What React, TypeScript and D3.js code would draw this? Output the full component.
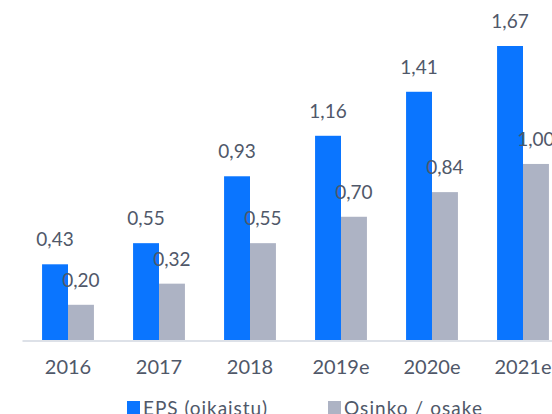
import React from 'react'
import * as d3 from 'd3'

const years = ['2016', '2017', '2018', '2019e', '2020e', '2021e']
const eps = [0.43, 0.55, 0.93, 1.16, 1.41, 1.67]
const dividend = [0.2, 0.32, 0.55, 0.7, 0.84, 1.0]
const seriesNames = ['EPS (oikaistu)', 'Osinko / osake']
const colors = ['#0a75ff', '#adb3c4']

const W = 552
const H = 414
const baseY = 340
const font = 'Lato, "Open Sans", sans-serif'
const textColor = '#505869'

const fmt = (v: number) => v.toFixed(2).replace('.', ',')

export default function App() {
  const x0 = d3.scaleBand<string>()
    .domain(years)
    .range([22.5, 568.5])
    .paddingInner(0.43)
    .paddingOuter(0.215)

  const x1 = d3.scaleBand<number>()
    .domain([0, 1])
    .range([0, x0.bandwidth()])

  const y = d3.scaleLinear()
    .domain([0, 1.67])
    .range([baseY, 46])

  const series = [eps, dividend]
  // legend placement
  const legendX = [127, 328]
  const legendW = [124, 138]

  return (
    <svg width={W} height={H} style={{ position: 'absolute', left: 0, top: 0 }} fontFamily={font}>
      <line x1={22.5} x2={W} y1={baseY + 1} y2={baseY + 1} stroke='#dde1e8' strokeWidth={2} />
      {years.map((yr, i) => (
        <g key={yr} transform={`translate(${x0(yr)},0)`}>
          {series.map((s, k) => (
            <rect
              key={k}
              x={x1(k)}
              y={y(s[i])}
              width={x1.bandwidth()}
              height={baseY - y(s[i])}
              fill={colors[k]}
            />
          ))}
          {series.map((s, k) => (
            <text
              key={'t' + k}
              x={(x1(k) || 0) + x1.bandwidth() / 2}
              y={y(s[i]) - 18}
              textAnchor='middle'
              fontSize={19}
              fill={textColor}
            >
              {fmt(s[i])}
            </text>
          ))}
          <text
            x={x0.bandwidth() / 2}
            y={374}
            textAnchor='middle'
            fontSize={20}
            fill={textColor}
          >
            {yr}
          </text>
        </g>
      ))}
      {seriesNames.map((name, k) => (
        <g key={name} transform={`translate(${legendX[k]},401)`}>
          <rect x={0} y={0} width={13} height={13} fill={colors[k]} />
          <text x={16} y={14} fontSize={19} fill={textColor} textLength={legendW[k]}>{name}</text>
        </g>
      ))}
    </svg>
  )
}
